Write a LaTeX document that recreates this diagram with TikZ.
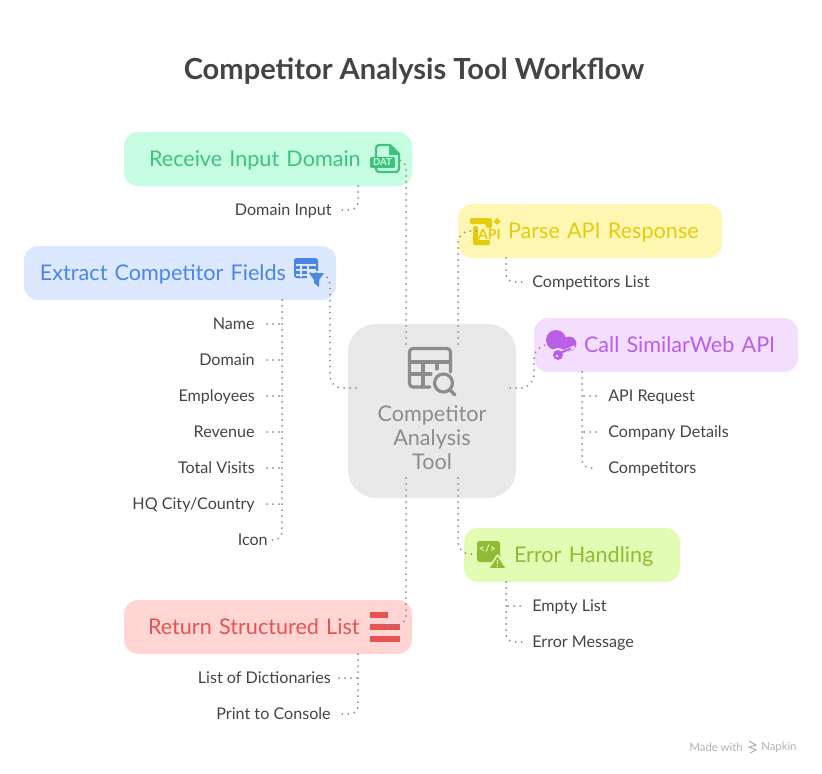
\documentclass[tikz,border=0pt]{standalone}
\usepackage{fontspec}
\setmainfont{Lato}
\usepackage{tikz}
\definecolor{recvfill}{HTML}{C7FDE3}
\definecolor{recvink}{HTML}{3CC47C}
\definecolor{extrfill}{HTML}{DBE8FE}
\definecolor{extrink}{HTML}{4A86E8}
\definecolor{parsefill}{HTML}{FEF6B3}
\definecolor{parseink}{HTML}{E5CC0F}
\definecolor{callfill}{HTML}{F3DFFD}
\definecolor{callink}{HTML}{B95FE8}
\definecolor{errfill}{HTML}{E3FCB4}
\definecolor{errink}{HTML}{90BC35}
\definecolor{retfill}{HTML}{FFD6D4}
\definecolor{retink}{HTML}{E55353}
\definecolor{toolfill}{HTML}{E9E9E9}
\definecolor{toolink}{HTML}{8C8C8C}
\definecolor{labelink}{HTML}{444444}
\tikzset{
  taskbox/.style={rounded corners=10.5pt,inner sep=0pt,minimum height=40.5pt,align=left,text height=13.2pt,text depth=1.5pt,font=\fontsize{16.2}{18}\selectfont},
  leftitem/.style={anchor=east,text=labelink,inner sep=0pt,text height=9pt,text depth=1.5pt,font=\fontsize{12.1}{14}\selectfont},
  rightitem/.style={anchor=west,text=labelink,inner sep=0pt,text height=9pt,text depth=1.5pt,font=\fontsize{12.1}{14}\selectfont},
  link/.style={draw=toolink,line width=1.5pt,line cap=round,dash pattern=on 0pt off 4.5pt},
  tiptext/.style={inner sep=0pt,font=\fontsize{7.2}{8}\bfseries\selectfont}
}
\begin{document}
\begin{tikzpicture}[x=0.75pt,y=-0.75pt]
    \useasboundingbox (0,0) rectangle (822,774);
    \node at (414,71) [inner sep=0pt,text=labelink,font=\fontsize{21.8}{25}\bfseries\selectfont] (title) {Competitor Analysis Tool Workflow};

    \node at (268,159) [taskbox,fill=recvfill,text=recvink,text width=216pt] (recv) {\hspace*{18.75pt}Receive Input Domain};
    \node at (180,273) [taskbox,fill=extrfill,text=extrink,text width=234pt] (extr) {\hspace*{12pt}Extract Competitor Fields};
    \node at (590,231) [taskbox,fill=parsefill,text=parseink,text width=198pt] (parse) {\hspace*{37.5pt}Parse API Response};
    \node at (666,345) [taskbox,fill=callfill,text=callink,text width=198pt] (call) {\hspace*{37.5pt}Call SimilarWeb API};
    \node at (572,555) [taskbox,fill=errfill,text=errink,text width=162pt] (err) {\hspace*{37.5pt}Error Handling};
    \node at (268,627) [taskbox,fill=retfill,text=retink,text width=216pt] (ret) {\hspace*{18pt}Return Structured List};
    \node at (432,411) [rounded corners=21pt,fill=toolfill,minimum width=126pt,minimum height=130.5pt,inner sep=0pt] (tool) {};
    \node at (432,438) [inner sep=0pt,text=toolink,align=center,font=\fontsize{16.2}{18}\selectfont] (toolname) {Competitor\\Analysis\\Tool};

    \node at (332,210) [leftitem] (domin) {Domain Input};
    \node at (255,324) [leftitem] (fname) {Name};
    \node at (255,360) [leftitem] (fdomain) {Domain};
    \node at (255,396) [leftitem] (femp) {Employees};
    \node at (255,432) [leftitem] (frev) {Revenue};
    \node at (255,468) [leftitem] (fvisits) {Total Visits};
    \node at (255,504) [leftitem] (fcity) {HQ City/Country};
    \node at (268,540) [leftitem] (ficon) {Icon};
    \node at (331,678) [leftitem] (dicts) {List of Dictionaries};
    \node at (331,714) [leftitem] (console) {Print to Console};
    \node at (532,282) [rightitem] (complist) {Competitors List};
    \node at (608,396) [rightitem] (apireq) {API Request};
    \node at (608,432) [rightitem] (details) {Company Details};
    \node at (608,468) [rightitem] (comps) {Competitors};
    \node at (532,606) [rightitem] (emptyl) {Empty List};
    \node at (532,642) [rightitem] (errmsg) {Error Message};

    \draw[recvink,line width=1.6pt,line join=round,fill=recvfill] (376,163) -- (376,148) arc[start angle=180,end angle=270,radius=3] -- (390,145) -- (399,154) -- (399,169) arc[start angle=0,end angle=90,radius=3] -- (379,172) arc[start angle=90,end angle=180,radius=3] -- cycle;
    \fill[recvink] (389,145) -- (400,155) -- (389,155) -- cycle;
    \fill[recvink,rounded corners=1pt] (370,157) rectangle (395,168);
    \node at (382.5,162.5) [tiptext,text=recvfill] (dattext) {DAT};

    \fill[extrink,rounded corners=2pt] (294,258) rectangle (318,278);
    \draw[extrfill,line width=0.8pt] (296,265) -- (316,265) (296,270) -- (316,270) (296,275) -- (310,275) (301,265) -- (301,277) (308,265) -- (308,277);
    \fill[extrfill] (307,271) rectangle (326,289);
    \fill[extrink] (309,273) -- (324,273) -- (319,280) -- (319,287) -- (314,283) -- (314,280) -- cycle;

    \fill[parseink,rounded corners=1pt] (470,218) -- (492,218) -- (492,228) -- (486,228) -- (486,224) -- (470,224) -- cycle;
    \fill[parseink,rounded corners=1pt] (473,226) -- (478,226) -- (478,240) -- (490,240) -- (490,245) -- (473,245) -- cycle;
    \fill[parseink] (497,218) -- (500.5,221.5) -- (497,225) -- (493.5,221.5) -- cycle;
    \node at (489.5,234.5) [tiptext,text=parseink,font=\fontsize{10.5}{11}\bfseries\selectfont] (apitext) {API};

    \fill[callink] (556,340) circle[radius=10];
    \fill[callink] (569,344) circle[radius=7.5];
    \fill[callink] (556,345) rectangle (569,351.5);
    \draw[callfill,line width=2.6pt] (558,354) -- (575,347);
    \fill[callfill] (558,355) circle[radius=7];
    \draw[callink,line width=1.5pt] (560,353) -- (571,348.5);
    \fill[callink] (558,355) circle[radius=5];
    \fill[callfill] (557,356) circle[radius=1.3];

    \fill[errink,rounded corners=2pt] (477,541) rectangle (500,562);
    \node at (487.5,549) [tiptext,text=errfill,font=\fontsize{8}{9}\bfseries\selectfont] (codetext) {</>};
    \draw[errfill,fill=errink,line width=1.2pt,line join=round] (497.5,555) -- (507,569) -- (488,569) -- cycle;
    \node at (497.5,564) [tiptext,text=errfill,font=\fontsize{7.5}{8}\bfseries\selectfont] (warntext) {!};

    \fill[retink] (370,612) rectangle (388,618);
    \fill[retink] (370,624) rectangle (400,630);
    \fill[retink] (370,636) rectangle (400,642);

    \draw[toolink,line width=2.4pt,line cap=round,line join=round] (430,387) -- (413,387) arc[start angle=90,end angle=180,radius=3.5] -- (409.5,352) arc[start angle=180,end angle=270,radius=3.5] -- (447,348.5) arc[start angle=-90,end angle=0,radius=3.5] -- (450.5,372);
    \draw[toolink,line width=2.4pt,line cap=round] (410,362) -- (450,362) (410,374) -- (431,374) (423,362) -- (423,386) (437,362) -- (437,369);
    \draw[toolink,line width=2.4pt,line cap=round] (443.5,383) circle[radius=9] (450,390) -- (455,395);

    \coordinate (recvS) at (358,186);
    \coordinate (extrS) at (282,300);
    \coordinate (parseS) at (506,258);
    \coordinate (callS) at (582,372);
    \coordinate (errS) at (506,582);
    \coordinate (retS) at (358,654);
    \coordinate (toolNa) at (406,344);
    \coordinate (toolNb) at (458,344);
    \coordinate (toolSa) at (406,478);
    \coordinate (toolSb) at (458,478);
    \coordinate (toolW) at (356,388);
    \coordinate (toolE) at (510,388);
    \coordinate (datIcon) at (396,160);
    \coordinate (filterIcon) at (310,273);
    \coordinate (filterTurn) at (330,273);
    \coordinate (apiIcon) at (479,231);
    \coordinate (keyIcon) at (548,345);
    \coordinate (keyTurn) at (534,345);
    \coordinate (codeIcon) at (479,554);
    \coordinate (listIcon) at (385,627);

    \draw[link,rounded corners=6pt] (toolNa) |- (datIcon);
    \draw[link,rounded corners=9pt] (toolW) -| (filterTurn) -- (filterIcon);
    \draw[link,rounded corners=9pt] (toolNb) |- (apiIcon);
    \draw[link,rounded corners=10pt] (toolE) -| (keyTurn) -- (keyIcon);
    \draw[link,rounded corners=9pt] (toolSb) |- (codeIcon);
    \draw[link,rounded corners=9pt] (toolSa) |- (listIcon);

    \draw[link,rounded corners=6pt] (recvS) |- ([xshift=6pt]domin.east);
    \draw[link,rounded corners=6pt] (extrS) |- ([xshift=3pt]ficon.east);
    \draw[link] ([xshift=9pt]fname.east) -- (fname.east -| extrS);
    \draw[link] ([xshift=9pt]fdomain.east) -- (fdomain.east -| extrS);
    \draw[link] ([xshift=9pt]femp.east) -- (femp.east -| extrS);
    \draw[link] ([xshift=9pt]frev.east) -- (frev.east -| extrS);
    \draw[link] ([xshift=9pt]fvisits.east) -- (fvisits.east -| extrS);
    \draw[link] ([xshift=9pt]fcity.east) -- (fcity.east -| extrS);
    \draw[link,rounded corners=6pt] (parseS) |- ([xshift=-6pt]complist.west);
    \draw[link] ([xshift=-9pt]apireq.west) -- (apireq.west -| callS);
    \draw[link] ([xshift=-9pt]details.west) -- (details.west -| callS);
    \draw[link,rounded corners=6pt] (callS) |- ([xshift=-9pt]comps.west);
    \draw[link] ([xshift=-9pt]emptyl.west) -- (emptyl.west -| errS);
    \draw[link,rounded corners=6pt] (errS) |- ([xshift=-6pt]errmsg.west);
    \draw[link] ([xshift=6pt]dicts.east) -- (dicts.east -| retS);
    \draw[link,rounded corners=6pt] (retS) |- ([xshift=6pt]console.east);

    \node at (743,747) [anchor=east,inner sep=0pt,text=black!30,font=\fontsize{8.5}{10}\selectfont] (madewith) {Made with};
    \node at (761,747) [anchor=west,inner sep=0pt,text=black!30,font=\fontsize{8.5}{10}\selectfont] (napkin) {Napkin};
    \draw[black!30,line width=0.8pt] (749,741) -- (756,745) -- (749,747) -- (756,750) -- (750,753);
\end{tikzpicture}
\end{document}
